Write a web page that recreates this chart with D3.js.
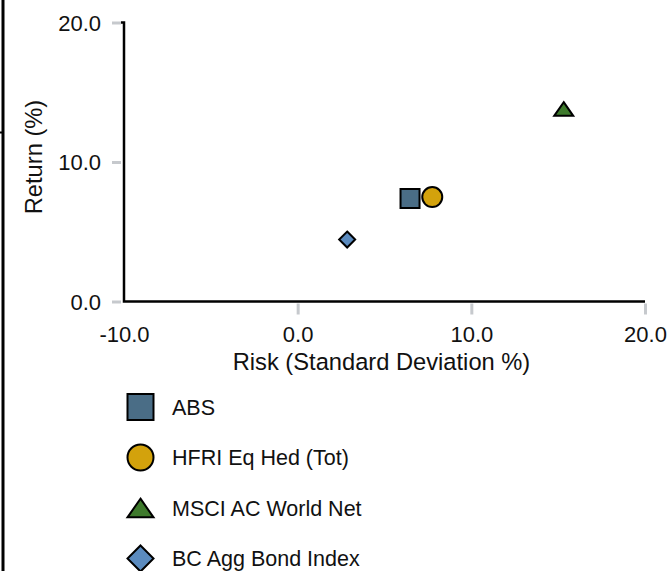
<!DOCTYPE html>
<html>
<head>
<meta charset="utf-8">
<script src="https://cdn.jsdelivr.net/npm/d3@7"></script>
<style>
  html, body { margin: 0; padding: 0; background: #fff; }
  svg { display: block; font-family: "Liberation Sans", Arial, sans-serif; }
</style>
</head>
<body>
<svg id="chart" width="672" height="571"></svg>
<script>
// Risk / return data
const names   = ["ABS", "HFRI Eq Hed (Tot)", "MSCI AC World Net", "BC Agg Bond Index"];
const risk    = [6.47, 7.75, 15.32, 2.85];
const ret     = [7.38, 7.49, 13.8, 4.44];
const shapes  = ["square", "circle", "triangle", "diamond"];
const colors  = ["#4a6d86", "#d3a20c", "#3e7a2c", "#5b8bbf"];
const xTicks  = [-10, 0, 10, 20];
const yTicks  = [0, 10, 20];

const svg = d3.select("#chart");
const FONT = "Liberation Sans, Arial, sans-serif";

const x = d3.scaleLinear().domain([-10, 20]).range([124, 645]);
const y = d3.scaleLinear().domain([0, 20]).range([301.5, 22.5]);

// frame edge on the left
svg.append("rect").attr("x", 1.5).attr("y", 0).attr("width", 3).attr("height", 571).attr("fill", "#000");
svg.append("rect").attr("x", 0).attr("y", 131.5).attr("width", 3).attr("height", 2).attr("fill", "#000");

// marker path generator, centred on the bounding box
function shapePath(kind, s) {
  const h = s / 2;
  if (kind === "square") return `M${-h},${-h}H${h}V${h}H${-h}Z`;
  if (kind === "circle") return `M${h},0A${h},${h} 0 1,1 ${-h},0A${h},${h} 0 1,1 ${h},0Z`;
  if (kind === "triangle") { const th = s * 0.72; return `M0,${-th/2}L${h},${th/2}L${-h},${th/2}Z`; }
  if (kind === "diamond") return `M0,${-h}L${h},0L0,${h}L${-h},0Z`;
}

const fmt = d => d.toFixed(1);

// axes
const xAxis = d3.axisBottom(x).tickValues(xTicks).tickFormat(fmt).tickSizeInner(12).tickSizeOuter(0);
const yAxis = d3.axisLeft(y).tickValues(yTicks).tickFormat(fmt).tickSizeInner(12).tickSizeOuter(0);

const gx = svg.append("g").attr("transform", `translate(0,${y(0)})`).call(xAxis);
const gy = svg.append("g").attr("transform", `translate(${x(-10)},0)`).call(yAxis);

[gx, gy].forEach(g => {
  g.attr("font-size", 22).attr("font-family", FONT);
  g.select(".domain").remove();
  g.selectAll(".tick line").attr("stroke", "#c6c9cd").attr("stroke-width", 3);
  g.selectAll(".tick text").attr("fill", "#111");
});
gx.selectAll(".tick line").attr("y1", 2).attr("y2", 13);
gy.selectAll(".tick line").attr("x1", -3).attr("x2", -12);
gx.selectAll(".tick text").attr("y", 40).attr("dy", null);
gy.selectAll(".tick text").attr("x", -23).attr("dy", "0.36em");
// the x tick at -10 sits on the y axis
gx.selectAll(".tick").filter(d => d === -10).select("line").remove();

// axis lines
svg.append("path")
  .attr("d", `M${x(-10) - 3},${y(20)}H${x(-10)}V${y(0)}H${x(20)}`)
  .attr("fill", "none").attr("stroke", "#000").attr("stroke-width", 2.5);

// axis titles
svg.append("text").attr("x", 381.5).attr("y", 370).attr("text-anchor", "middle")
  .attr("font-size", 23.7).attr("fill", "#111").text("Risk (Standard Deviation %)");
svg.append("text").attr("transform", "translate(42,157) rotate(-90)").attr("text-anchor", "middle")
  .attr("font-size", 23.7).attr("fill", "#111").text("Return (%)");

// points
const sizes = { square: 19, circle: 20, triangle: 19, diamond: 16 };
names.forEach((n, i) => {
  svg.append("path")
    .attr("d", shapePath(shapes[i], sizes[shapes[i]]))
    .attr("transform", `translate(${x(risk[i])},${y(ret[i])})`)
    .attr("fill", colors[i]).attr("stroke", "#000").attr("stroke-width", 2);
});

// legend
const leg = svg.append("g");
names.forEach((n, i) => {
  const cy = 407 + i * 50.5;
  leg.append("path")
    .attr("d", shapePath(shapes[i], 26))
    .attr("transform", `translate(140.5,${cy})`)
    .attr("fill", colors[i]).attr("stroke", "#000").attr("stroke-width", 2);
  leg.append("text").attr("x", 172).attr("y", cy).attr("dy", "0.36em")
    .attr("font-size", 21.5).attr("fill", "#111").text(n);
});
</script>
</body>
</html>
